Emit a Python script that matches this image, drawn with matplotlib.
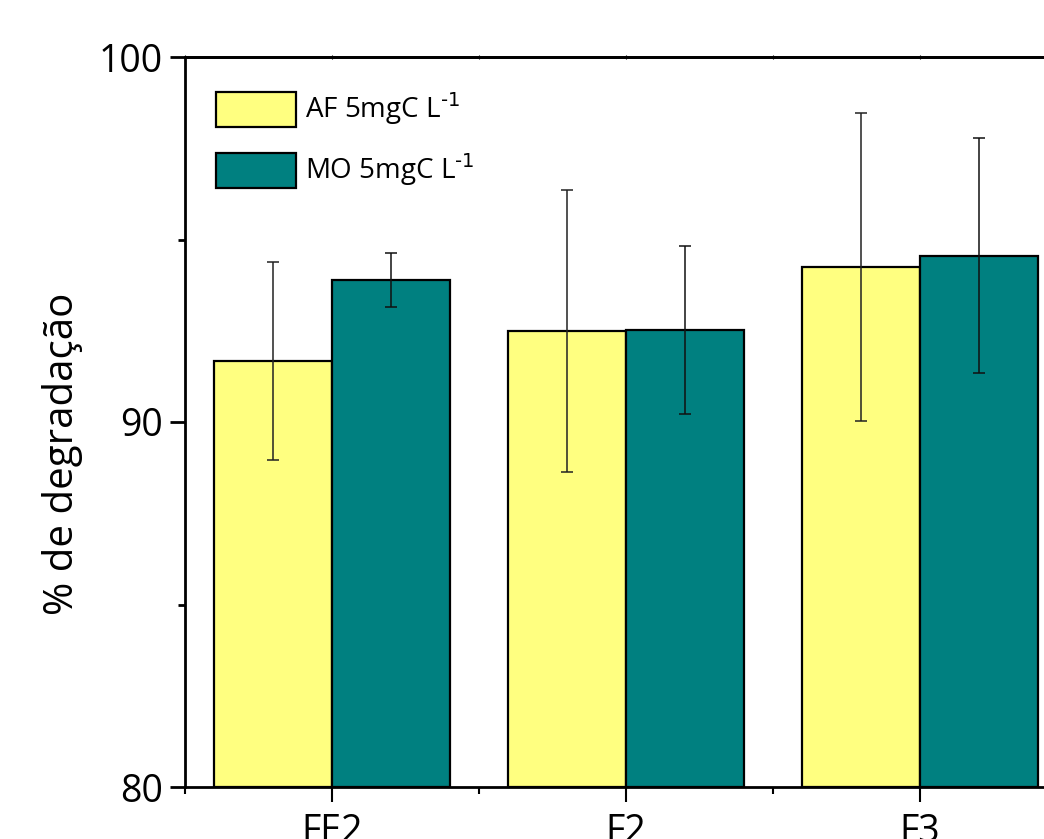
import matplotlib
matplotlib.use("Agg")
import matplotlib.pyplot as plt
import numpy as np
from matplotlib.ticker import FixedLocator

categories = ["FE2", "F2", "F3"]
af_values = [91.67, 92.49, 94.25]
af_errors = [2.71, 3.87, 4.22]
mo_values = [93.89, 92.52, 94.55]
mo_errors = [0.74, 2.30, 3.22]
series_labels = [r"AF 5mgC L$^{\text{-1}}$", r"MO 5mgC L$^{\text{-1}}$"]
y_label = "% de degradação"

plt.rcParams["mathtext.default"] = "regular"
plt.rcParams["font.family"] = ["Open Sans", "DejaVu Sans"]

W, H = 1044, 839
fig = plt.figure(figsize=(W / 100, H / 100), dpi=100)
left_px, right_px, top_px, bot_px = 185, 1067, 57, 787
ax = fig.add_axes([left_px / W, 1 - bot_px / H, (right_px - left_px) / W, (bot_px - top_px) / H])

x = np.arange(len(categories))
bw = 0.4
ax.bar(x - bw / 2, [v - 80 for v in af_values], bw, bottom=80, color="#FFFF80",
       edgecolor="black", linewidth=1.6, label=series_labels[0], zorder=2)
ax.bar(x + bw / 2, [v - 80 for v in mo_values], bw, bottom=80, color="#008080",
       edgecolor="black", linewidth=1.6, label=series_labels[1], zorder=2)
ax.errorbar(x - bw / 2, af_values, yerr=af_errors, fmt="none", ecolor="#222222",
            elinewidth=1.1, capsize=4.2, capthick=1.1, zorder=3)
ax.errorbar(x + bw / 2, mo_values, yerr=mo_errors, fmt="none", ecolor="#111111",
            elinewidth=1.1, capsize=4.2, capthick=1.1, zorder=3)

ax.set_xlim(-0.5, 2.5)
ax.set_ylim(80, 100)
ax.set_yticks([80, 90, 100])
ax.yaxis.set_minor_locator(FixedLocator([85, 95]))
ax.set_xticks(x)
ax.set_xticklabels(categories)
ax.xaxis.set_minor_locator(FixedLocator([-0.5, 0.5, 1.5]))

for s in ax.spines.values():
    s.set_linewidth(2.0)
ax.spines["right"].set_visible(False)

ax.tick_params(axis="y", which="major", direction="out", length=11, width=2, labelsize=27, pad=5)
ax.tick_params(axis="y", which="minor", direction="out", length=5, width=2)
ax.tick_params(axis="x", which="major", direction="out", length=11, width=1.5, labelsize=27, pad=8)
ax.tick_params(axis="x", which="minor", direction="out", length=5, width=1.5)

# tiny ticks along the top edge
top = ax.secondary_xaxis("top")
top.set_xticks([-0.5, 0, 0.5, 1, 1.5, 2])
top.set_xticklabels([])
top.tick_params(direction="inout", length=3, width=0.8)
top.spines["top"].set_linewidth(2.0)

fig.text(63 / W, 1 - 454 / H, y_label, rotation=90, ha="center", va="center", fontsize=29)

leg = ax.legend(loc="upper left", bbox_to_anchor=(0.013, 0.98), frameon=False,
                fontsize=20, handlelength=2.9, handleheight=1.55, handletextpad=0.3,
                labelspacing=0.9, borderaxespad=0.3)
for p in leg.get_patches():
    p.set_linewidth(1.6)

fig.savefig("out.png", dpi=100)
